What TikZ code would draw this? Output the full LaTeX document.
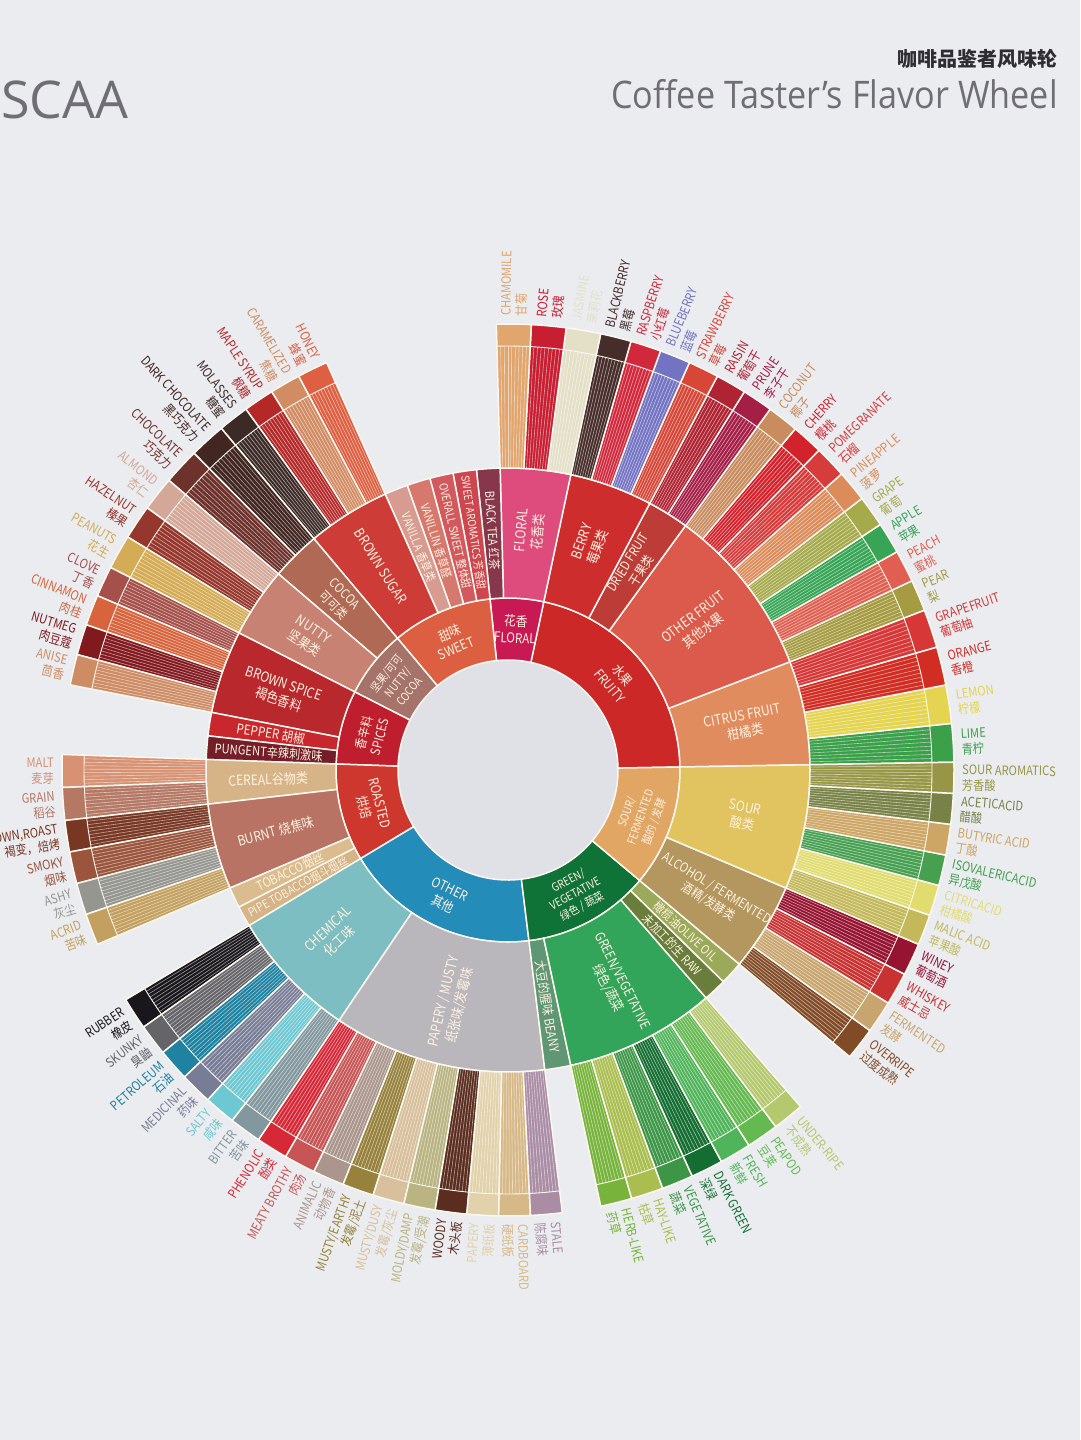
\documentclass[tikz,border=0pt]{standalone}
\usepackage{fontspec}
\setmainfont{Noto Sans CJK SC}
\newfontfamily\labfont[FakeStretch=0.86]{Noto Sans CJK SC}
\newfontfamily\titlefont{Open Sans}
\usetikzlibrary{positioning}

% page and title colours
\definecolor{bg}{RGB}{234,236,240}
\definecolor{hole}{RGB}{224,225,230}
\definecolor{sepwhite}{RGB}{252,248,240}
\definecolor{labcream}{RGB}{255,242,225}
\definecolor{titlegrey}{RGB}{110,110,116}
\definecolor{titledark}{RGB}{45,45,50}
% inner ring
\definecolor{cFruity}{RGB}{205,40,40}     \definecolor{cFloral}{RGB}{200,25,85}
\definecolor{cSweet}{RGB}{220,95,65}      \definecolor{cNuttyCocoa}{RGB}{165,115,105}
\definecolor{cSpices}{RGB}{190,30,45}     \definecolor{cRoasted}{RGB}{205,55,45}
\definecolor{cOther}{RGB}{35,140,185}     \definecolor{cGreen}{RGB}{15,115,55}
\definecolor{cSourFerm}{RGB}{225,165,100}
% middle ring
\definecolor{cCitrus}{RGB}{225,140,95}    \definecolor{cOtherFruit}{RGB}{220,90,75}
\definecolor{cDried}{RGB}{190,60,55}      \definecolor{cBerry}{RGB}{205,45,45}
\definecolor{cFloralB}{RGB}{222,75,125}   \definecolor{cBlackTea}{RGB}{135,55,75}
\definecolor{cSweetArom}{RGB}{205,70,80}  \definecolor{cOverall}{RGB}{210,90,95}
\definecolor{cVanillin}{RGB}{215,120,110} \definecolor{cVanilla}{RGB}{215,155,145}
\definecolor{cBrownSugar}{RGB}{205,60,55} \definecolor{cCocoa}{RGB}{175,105,85}
\definecolor{cNutty}{RGB}{200,130,115}    \definecolor{cBrownSpice}{RGB}{185,40,45}
\definecolor{cPepper}{RGB}{200,40,45}     \definecolor{cPungent}{RGB}{115,30,40}
\definecolor{cCereal}{RGB}{215,180,135}   \definecolor{cBurnt}{RGB}{185,115,100}
\definecolor{cTobacco}{RGB}{218,188,142}  \definecolor{cPipe}{RGB}{213,180,135}
\definecolor{cChemical}{RGB}{125,190,195} \definecolor{cPapery}{RGB}{185,182,188}
\definecolor{cBeany}{RGB}{95,150,115}     \definecolor{cGreenB}{RGB}{50,165,90}
\definecolor{cRaw}{RGB}{105,125,60}       \definecolor{cOlive}{RGB}{155,170,90}
\definecolor{cAlcohol}{RGB}{180,150,95}   \definecolor{cSour}{RGB}{225,195,95}
% outer ring
\definecolor{fLime}{RGB}{60,160,75}       \definecolor{fLemon}{RGB}{228,212,80}
\definecolor{fOrange}{RGB}{210,45,35}     \definecolor{fGrapefruit}{RGB}{215,55,55}
\definecolor{fPear}{RGB}{165,155,65}      \definecolor{fPeach}{RGB}{225,95,80}
\definecolor{fApple}{RGB}{55,165,85}      \definecolor{fGrape}{RGB}{165,170,75}
\definecolor{fPineapple}{RGB}{220,140,90} \definecolor{fPomegranate}{RGB}{215,60,60}
\definecolor{fCherry}{RGB}{210,35,45}     \definecolor{fCoconut}{RGB}{200,140,95}
\definecolor{fPrune}{RGB}{165,30,70}      \definecolor{fRaisin}{RGB}{175,35,50}
\definecolor{fStrawberry}{RGB}{215,70,55} \definecolor{fBlueberry}{RGB}{115,115,195}
\definecolor{fRaspberry}{RGB}{210,40,60}  \definecolor{fBlackberry}{RGB}{70,45,42}
\definecolor{fJasmine}{RGB}{228,224,200}  \definecolor{fRose}{RGB}{200,30,50}
\definecolor{fChamomile}{RGB}{225,165,110}
\definecolor{fHoney}{RGB}{222,95,65}      \definecolor{fCaramel}{RGB}{210,140,100}
\definecolor{fMaple}{RGB}{180,40,40}      \definecolor{fMolasses}{RGB}{60,42,38}
\definecolor{fDarkChoc}{RGB}{65,38,34}    \definecolor{fChoc}{RGB}{110,50,45}
\definecolor{fAlmond}{RGB}{212,168,152}   \definecolor{fHazelnut}{RGB}{150,55,45}
\definecolor{fPeanut}{RGB}{212,172,85}
\definecolor{fClove}{RGB}{165,80,75}      \definecolor{fCinnamon}{RGB}{215,100,60}
\definecolor{fNutmeg}{RGB}{130,25,30}     \definecolor{fAnise}{RGB}{205,140,100}
\definecolor{fMalt}{RGB}{215,145,115}     \definecolor{fGrain}{RGB}{180,120,100}
\definecolor{fBrownRoast}{RGB}{120,55,35} \definecolor{fSmoky}{RGB}{155,85,60}
\definecolor{fAshy}{RGB}{150,150,145}     \definecolor{fAcrid}{RGB}{195,160,95}
\definecolor{fRubber}{RGB}{25,22,28}      \definecolor{fSkunky}{RGB}{100,100,105}
\definecolor{fPetroleum}{RGB}{30,130,160} \definecolor{fMedicinal}{RGB}{120,125,150}
\definecolor{fSalty}{RGB}{110,200,210}    \definecolor{fBitter}{RGB}{130,152,158}
\definecolor{fPhenolic}{RGB}{215,40,55}   \definecolor{fMeaty}{RGB}{200,85,85}
\definecolor{fAnimalic}{RGB}{170,150,140} \definecolor{fEarthy}{RGB}{150,130,60}
\definecolor{fDusty}{RGB}{215,192,155}    \definecolor{fMoldy}{RGB}{185,180,130}
\definecolor{fWoody}{RGB}{90,45,30}       \definecolor{fPapery}{RGB}{225,210,172}
\definecolor{fCardboard}{RGB}{215,185,135}\definecolor{fStale}{RGB}{170,140,165}
\definecolor{fHerb}{RGB}{120,180,60}      \definecolor{fHay}{RGB}{170,190,80}
\definecolor{fVegetative}{RGB}{60,150,70} \definecolor{fDarkGreen}{RGB}{20,110,50}
\definecolor{fFresh}{RGB}{80,180,90}      \definecolor{fPeapod}{RGB}{100,185,80}
\definecolor{fUnderripe}{RGB}{180,200,110}
\definecolor{fOverripe}{RGB}{130,75,40}   \definecolor{fFermented}{RGB}{200,165,110}
\definecolor{fWhiskey}{RGB}{200,50,50}    \definecolor{fWiney}{RGB}{150,20,50}
\definecolor{fMalic}{RGB}{195,185,90}     \definecolor{fCitric}{RGB}{225,220,110}
\definecolor{fIsovaleric}{RGB}{70,160,80} \definecolor{fButyric}{RGB}{205,165,100}
\definecolor{fAcetic}{RGB}{120,130,70}    \definecolor{fSourArom}{RGB}{150,150,70}

% ring segment: start angle, end angle, inner radius, outer radius
\newcommand{\ringseg}[4]{(#1:#3) arc[start angle=#1, end angle=#2, radius=#3] -- (#2:#4) arc[start angle=#2, end angle=#1, radius=#4] -- cycle}

\tikzset{
  seg/.style={draw=sepwhite, line width=1.5pt},
  stripe/.style={draw=white, opacity=0.55, line width=0.6pt},
  tierone/.style={text=labcream, align=center, inner sep=0pt},
  tiertwo/.style={text=labcream, align=center, inner sep=0pt},
  leaf/.style={font=\labfont\fontsize{13}{15.5}\selectfont, inner sep=0pt},
}

\begin{document}
\begin{tikzpicture}[x=1pt,y=1pt]
  \fill[bg] (0,0) rectangle (1080,-1440);
  \useasboundingbox (0,0) rectangle (1080,-1440);

  % titles
  \node[anchor=base west, text=titlegrey, font=\titlefont\fontsize{52}{52}\selectfont, inner sep=0pt] (scaa) at (1,-118) {SCAA};
  \node[anchor=base east, text=titledark, font=\bfseries\fontsize{20}{20}\selectfont, inner sep=0pt] (titlecn) at (1058,-66) {咖啡品鉴者风味轮};
  \node[anchor=base east, text=titlegrey, font=\titlefont\fontsize{38}{38}\selectfont, inner sep=0pt] (titleen) at (1058,-108) {\scalebox{0.9}[1]{Coffee Taster’s Flavor Wheel}};

  \begin{scope}[shift={(508,-770)}]
    \fill[hole] (0,0) circle[radius=110];

    % inner ring
    \foreach \a/\b/\c/\fs/\txt [count=\i] in {
      1/78/cFruity/13.5/{水果\\FRUITY},
      78/96/cFloral/13.5/{花香\\FLORAL},
      96/130/cSweet/13.5/{甜味\\SWEET},
      130/153/cNuttyCocoa/11.5/{坚果/可可\\NUTTY/\\COCOA},
      153/178/cSpices/13/{香辛料\\SPICES},
      178/211/cRoasted/13.5/{ROASTED\\烘焙},
      211/277/cOther/13.5/{OTHER\\其他},
      277/320/cGreen/11.5/{GREEN/\\VEGETATIVE\\绿色 / 蔬菜},
      320/361/cSourFerm/11.5/{SOUR/\\FERMENTED\\酸的 / 发酵}}{
      \fill[\c] \ringseg{\a}{\b}{110}{172};
      \draw[seg] \ringseg{\a}{\b}{110}{172};
      \pgfmathsetmacro\m{(\a+\b)/2}
      \pgfmathsetmacro\rot{\m<180 ? \m-90 : \m+90}
      \pgfmathsetmacro\bs{\fs+3}
      \node[tierone, font=\labfont\fontsize{\fs}{\bs}\selectfont, rotate=\rot] (main\i) at (\m:141) {\txt};
    }

    % middle ring
    \foreach \a/\b/\c/\fs/\txt [count=\i] in {
      1/21/cCitrus/14/{CITRUS FRUIT\\柑橘类},
      21/54/cOtherFruit/14/{OTHER FRUIT\\其他水果},
      54/62/cDried/13/{DRIED FRUIT\\干果类},
      62/78/cBerry/14/{BERRY\\莓果类},
      78/91.5/cFloralB/14/{FLORAL\\花香类},
      91.5/96/cBlackTea/12.5/{BLACK TEA 红茶},
      96/100.5/cSweetArom/11/{SWEET AROMATICS 芳香甜},
      100.5/105/cOverall/11.5/{OVERALL SWEET 整体甜},
      105/109.5/cVanillin/12/{VANILLIN 香草醛},
      109.5/114/cVanilla/12/{VANILLA 香草类},
      114/130/cBrownSugar/14/{BROWN SUGAR},
      130/139.5/cCocoa/13/{COCOA\\可可类},
      139.5/153/cNutty/14/{NUTTY\\坚果类},
      153/169/cBrownSpice/14/{BROWN SPICE\\褐色香料},
      169/173.5/cPepper/13.5/{PEPPER 胡椒},
      173.5/178/cPungent/13/{PUNGENT辛辣刺激味},
      178/186.5/cCereal/14/{CEREAL谷物类},
      186.5/203/cBurnt/14/{BURNT 烧焦味},
      203/207/cTobacco/13/{TOBACCO烟丝},
      207/211/cPipe/12/{PIPE TOBACCO烟斗烟丝},
      211/236/cChemical/14/{CHEMICAL\\化工味},
      236/277/cPapery/14/{PAPERY / MUSTY\\纸张味/发霉味},
      277/282/cBeany/13/{大豆的腥味 BEANY},
      282/311/cGreenB/13.5/{GREEN/VEGETATIVE\\绿色/蔬菜},
      311/315.5/cRaw/12.5/{未加工的生 RAW},
      315.5/320/cOlive/12.5/{橄榄油OLIVE OIL},
      320/337/cAlcohol/13/{ALCOHOL / FERMENTED\\酒精/发酵类},
      337/361/cSour/14/{SOUR\\酸类}}{
      \fill[\c] \ringseg{\a}{\b}{172}{302};
      \draw[seg] \ringseg{\a}{\b}{172}{302};
      \pgfmathsetmacro\m{(\a+\b)/2}
      \pgfmathsetmacro\rot{(\m>90)*(\m<270) ? \m-180 : \m}
      \pgfmathsetmacro\bs{\fs+3}
      \node[tiertwo, font=\labfont\fontsize{\fs}{\bs}\selectfont, rotate=\rot] (sub\i) at (\m:240) {\txt};
    }

    % outer ring: striped bars with a solid tip and a label
    \foreach \a/\b/\c/\en/\zh [count=\i] in {
      1/6/fLime/{LIME}/{青柠},
      6/11/fLemon/{LEMON}/{柠檬},
      11/16/fOrange/{ORANGE}/{香橙},
      16/21/fGrapefruit/{GRAPEFRUIT}/{葡萄柚},
      21/25.1/fPear/{PEAR}/{梨},
      25.1/29.3/fPeach/{PEACH}/{蜜桃},
      29.3/33.4/fApple/{APPLE}/{苹果},
      33.4/37.5/fGrape/{GRAPE}/{葡萄},
      37.5/41.6/fPineapple/{PINEAPPLE}/{菠萝},
      41.6/45.8/fPomegranate/{POMEGRANATE}/{石榴},
      45.8/49.9/fCherry/{CHERRY}/{樱桃},
      49.9/54/fCoconut/{COCONUT}/{椰子},
      54/58/fPrune/{PRUNE}/{李子干},
      58/62/fRaisin/{RAISIN}/{葡萄干},
      62/66/fStrawberry/{STRAWBERRY}/{草莓},
      66/70/fBlueberry/{BLUEBERRY}/{蓝莓},
      70/74/fRaspberry/{RASPBERRY}/{小红莓},
      74/78/fBlackberry/{BLACKBERRY}/{黑莓},
      78/82.5/fJasmine/{JASMINE}/{茉莉花},
      82.5/87/fRose/{ROSE}/{玫瑰},
      87/91.5/fChamomile/{CHAMOMILE}/{甘菊},
      114/118/fHoney/{HONEY}/{蜂蜜},
      118/122/fCaramel/{CARAMELIZED}/{焦糖},
      122/126/fMaple/{MAPLE SYRUP}/{枫糖},
      126/130/fMolasses/{MOLASSES}/{糖蜜},
      130/134.75/fDarkChoc/{DARK CHOCOLATE}/{黑巧克力},
      134.75/139.5/fChoc/{CHOCOLATE}/{巧克力},
      139.5/144/fAlmond/{ALMOND}/{杏仁},
      144/148.5/fHazelnut/{HAZELNUT}/{榛果},
      148.5/153/fPeanut/{PEANUTS}/{花生},
      153/157/fClove/{CLOVE}/{丁香},
      157/161/fCinnamon/{CINNAMON}/{肉桂},
      161/165/fNutmeg/{NUTMEG}/{肉豆蔻},
      165/169/fAnise/{ANISE}/{茴香},
      178/182.25/fMalt/{MALT}/{麦芽},
      182.25/186.5/fGrain/{GRAIN}/{稻谷},
      186.5/190.6/fBrownRoast/{BROWN,ROAST}/{褐变，焙烤},
      190.6/194.75/fSmoky/{SMOKY}/{烟味},
      194.75/198.9/fAshy/{ASHY}/{灰尘},
      198.9/203/fAcrid/{ACRID}/{苦味},
      211/215.2/fRubber/{RUBBER}/{橡皮},
      215.2/219.3/fSkunky/{SKUNKY}/{臭鼬},
      219.3/223.5/fPetroleum/{PETROLEUM}/{石油},
      223.5/227.7/fMedicinal/{MEDICINAL}/{药味},
      227.7/231.8/fSalty/{SALTY}/{咸味},
      231.8/236/fBitter/{BITTER}/{苦味},
      236/240.1/fPhenolic/{PHENOLIC}/{酚类},
      240.1/244.2/fMeaty/{MEATY BROTHY}/{肉汤},
      244.2/248.3/fAnimalic/{ANIMALIC}/{动物香},
      248.3/252.4/fEarthy/{MUSTY/EARTHY}/{发霉/泥土},
      252.4/256.5/fDusty/{MUSTY/DUSY}/{发霉/灰尘},
      256.5/260.6/fMoldy/{MOLDY/DAMP}/{发霉/受潮},
      260.6/264.7/fWoody/{WOODY}/{木头板},
      264.7/268.8/fPapery/{PAPERY}/{薄纸板},
      268.8/272.9/fCardboard/{CARDBOARD}/{硬纸板},
      272.9/277/fStale/{STALE}/{陈腐味},
      282/286.1/fHerb/{HERB-LIKE}/{药草},
      286.1/290.3/fHay/{HAY-LIKE}/{枯草},
      290.3/294.4/fVegetative/{VEGETATIVE}/{蔬菜},
      294.4/298.6/fDarkGreen/{DARK GREEN}/{深绿},
      298.6/302.7/fFresh/{FRESH}/{新鲜},
      302.7/306.9/fPeapod/{PEAPOD}/{豆荚},
      306.9/311/fUnderripe/{UNDER-RIPE}/{不成熟},
      320/324.25/fOverripe/{OVERRIPE}/{过度成熟},
      324.25/328.5/fFermented/{FERMENTED}/{发酵},
      328.5/332.75/fWhiskey/{WHISKEY}/{威士忌},
      332.75/337/fWiney/{WINEY}/{葡萄酒},
      337/341/fMalic/{MALIC ACID}/{苹果酸},
      341/345/fCitric/{CITRICACID}/{柑橘酸},
      345/349/fIsovaleric/{ISOVALERICACID}/{异戊酸},
      349/353/fButyric/{BUTYRIC ACID}/{丁酸},
      353/357/fAcetic/{ACETICACID}/{醋酸},
      357/361/fSourArom/{SOUR AROMATICS}/{芳香酸}}{
      \fill[\c] \ringseg{\a}{\b}{302}{446};
      \pgfmathsetmacro\w{(\b-\a)/9}
      \foreach \k in {1,...,8}
        \draw[stripe] ({\a+\k*\w}:302) -- ({\a+\k*\w}:424);
      \draw[seg, line width=0.9pt] (\a:424) arc[start angle=\a, end angle=\b, radius=424];
      \draw[seg] \ringseg{\a}{\b}{302}{446};
      \pgfmathsetmacro\m{(\a+\b)/2}
      \pgfmathtruncatemacro\flip{(\m>90)*(\m<270)}
      \ifnum\flip=1
        \node[leaf, text=\c, anchor=east, rotate=\m-180, align=right] (leaf\i) at (\m:454) {\en\\\zh};
      \else
        \node[leaf, text=\c, anchor=west, rotate=\m, align=left] (leaf\i) at (\m:454) {\en\\\zh};
      \fi
    }
  \end{scope}
\end{tikzpicture}
\end{document}
